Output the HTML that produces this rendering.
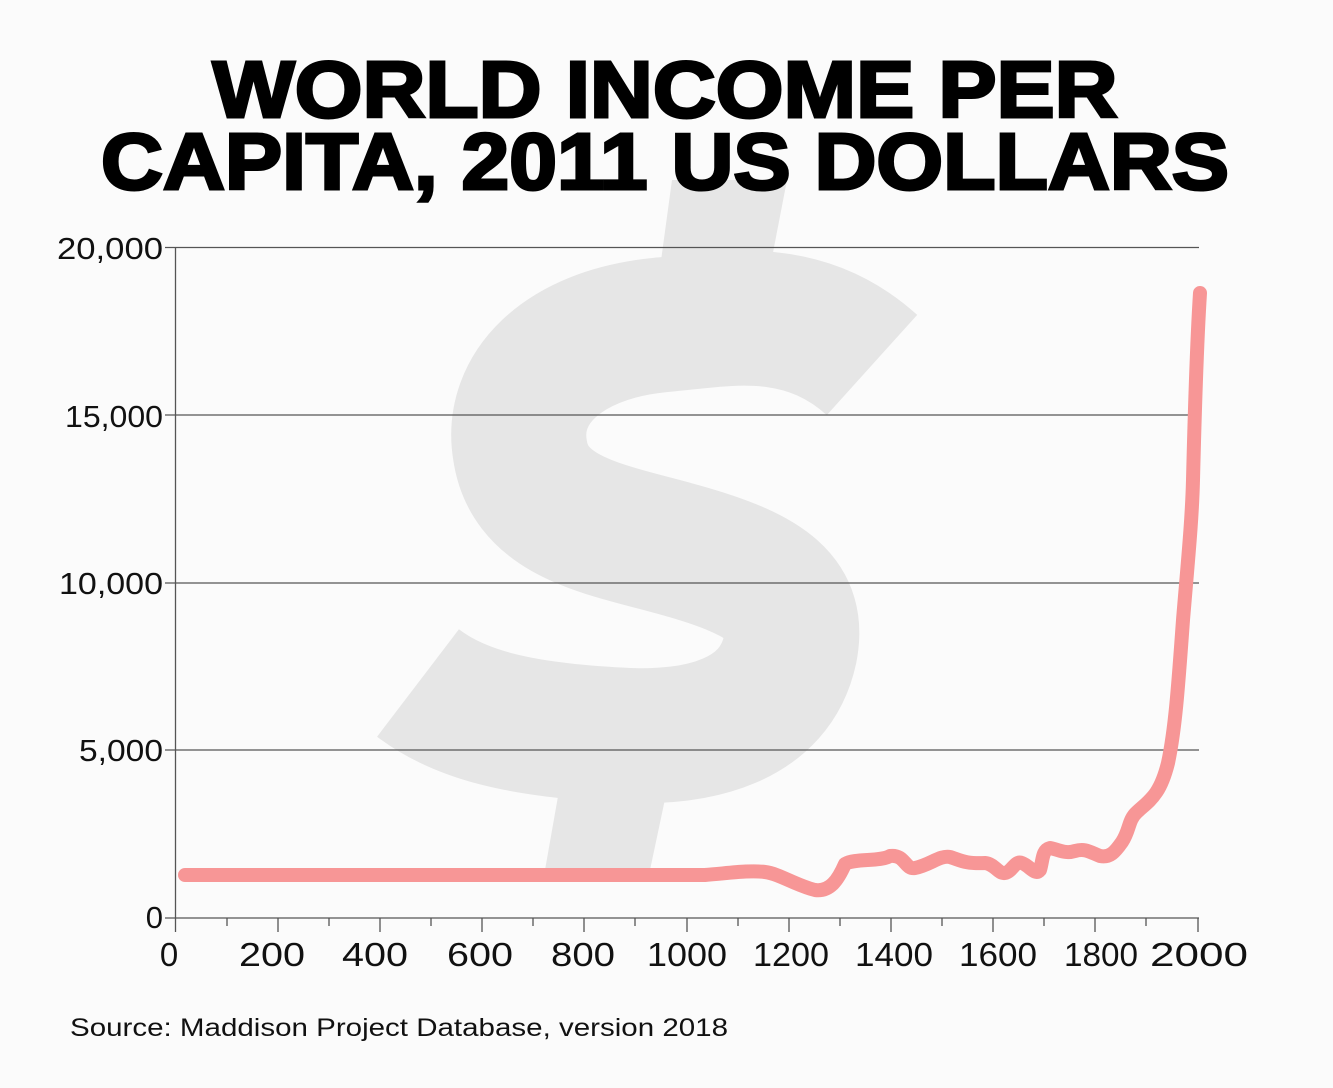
<!DOCTYPE html>
<html><head><meta charset="utf-8"><style>
html,body{margin:0;padding:0;background:#fbfbfb;}
svg{display:block;}
</style></head><body>
<svg width="1333" height="1088" viewBox="0 0 1333 1088" xmlns="http://www.w3.org/2000/svg">
<rect width="1333" height="1088" fill="#fbfbfb"/>
<g fill="#e6e6e6">
<polygon points="672,180 787,180 770,268 660,268"/>
<polygon points="560,785 668,785 650,870 545,870"/>
<path d="M872,365 C800,300 720,320 660,325 C560,335 510,390 520,450 C530,520 610,530 680,550 C770,575 800,600 790,650 C775,720 700,740 620,735 C520,730 460,715 418,683" fill="none" stroke="#e6e6e6" stroke-width="135"/>
</g>
<g font-family="Liberation Sans, sans-serif" font-weight="bold" fill="#000" stroke="#000" stroke-width="3" font-size="80" text-anchor="middle">
<text x="665" y="117" textLength="905" lengthAdjust="spacingAndGlyphs">WORLD INCOME PER</text>
<text x="665" y="189" textLength="1128" lengthAdjust="spacingAndGlyphs">CAPITA, 2011 US DOLLARS</text>
</g>
<g stroke="#555" stroke-width="1.3">
<line x1="165" y1="247.5" x2="1199" y2="247.5"/>
<line x1="165" y1="415" x2="1199" y2="415"/>
<line x1="165" y1="583" x2="1199" y2="583"/>
<line x1="165" y1="750" x2="1199" y2="750"/>
<line x1="165" y1="918" x2="1199" y2="918"/>
<line x1="175.5" y1="247" x2="175.5" y2="932"/>
</g>
<g stroke="#555" stroke-width="1.3">
<line x1="227" y1="918" x2="227" y2="926"/><line x1="278" y1="918" x2="278" y2="932"/>
<line x1="329" y1="918" x2="329" y2="926"/><line x1="380" y1="918" x2="380" y2="932"/>
<line x1="431" y1="918" x2="431" y2="926"/><line x1="482" y1="918" x2="482" y2="932"/>
<line x1="533" y1="918" x2="533" y2="926"/><line x1="584" y1="918" x2="584" y2="932"/>
<line x1="635" y1="918" x2="635" y2="926"/><line x1="687" y1="918" x2="687" y2="932"/>
<line x1="738" y1="918" x2="738" y2="926"/><line x1="789" y1="918" x2="789" y2="932"/>
<line x1="840" y1="918" x2="840" y2="926"/><line x1="891" y1="918" x2="891" y2="932"/>
<line x1="942" y1="918" x2="942" y2="926"/><line x1="993" y1="918" x2="993" y2="932"/>
<line x1="1044" y1="918" x2="1044" y2="926"/><line x1="1095" y1="918" x2="1095" y2="932"/>
<line x1="1146" y1="918" x2="1146" y2="926"/><line x1="1198" y1="918" x2="1198" y2="932"/>
</g>
<g font-family="Liberation Sans, sans-serif" font-size="31" fill="#111" text-anchor="end">
<text x="163" y="259" textLength="106" lengthAdjust="spacingAndGlyphs">20,000</text>
<text x="163" y="427" textLength="98" lengthAdjust="spacingAndGlyphs">15,000</text>
<text x="163" y="594" textLength="104" lengthAdjust="spacingAndGlyphs">10,000</text>
<text x="163" y="761" textLength="84" lengthAdjust="spacingAndGlyphs">5,000</text>
<text x="163" y="928">0</text>
</g>
<g font-family="Liberation Sans, sans-serif" font-size="33" fill="#111" text-anchor="middle">
<text x="169" y="966">0</text>
<text x="272" y="966" textLength="66" lengthAdjust="spacingAndGlyphs">200</text><text x="375" y="966" textLength="66" lengthAdjust="spacingAndGlyphs">400</text>
<text x="480" y="966" textLength="66" lengthAdjust="spacingAndGlyphs">600</text><text x="583" y="966" textLength="64" lengthAdjust="spacingAndGlyphs">800</text>
<text x="687" y="966" textLength="80" lengthAdjust="spacingAndGlyphs">1000</text><text x="791" y="966" textLength="76" lengthAdjust="spacingAndGlyphs">1200</text>
<text x="894" y="966" textLength="78" lengthAdjust="spacingAndGlyphs">1400</text><text x="998" y="966" textLength="78" lengthAdjust="spacingAndGlyphs">1600</text>
<text x="1101" y="966" textLength="74" lengthAdjust="spacingAndGlyphs">1800</text><text x="1199" y="966" textLength="98" lengthAdjust="spacingAndGlyphs">2000</text>
</g>
<path d="M185,875 L705,875 C730,873 750,870 765,872 C780,874 795,885 815,890 C830,892 838,880 845,864 C855,858 880,862 890,856 C905,854 905,870 915,868 C930,865 940,855 950,857 C960,860 965,864 985,863 C995,864 998,874 1005,873 C1012,872 1015,860 1022,863 C1030,866 1035,876 1040,870 C1043,860 1042,850 1050,848 C1060,850 1065,854 1075,851 C1085,848 1090,852 1100,856 C1110,858 1115,852 1122,842 C1130,830 1128,820 1137,812 C1150,800 1160,795 1168,763 C1175,730 1178,690 1183,620 C1188,560 1192,520 1193,480 C1195,400 1197,340 1200,293" fill="none" stroke="#f79696" stroke-width="14" stroke-linecap="round" stroke-linejoin="round"/>
<text x="70" y="1036" font-family="Liberation Sans, sans-serif" font-size="25" fill="#111" textLength="658" lengthAdjust="spacingAndGlyphs">Source: Maddison Project Database, version 2018</text>
</svg>
</body></html>
